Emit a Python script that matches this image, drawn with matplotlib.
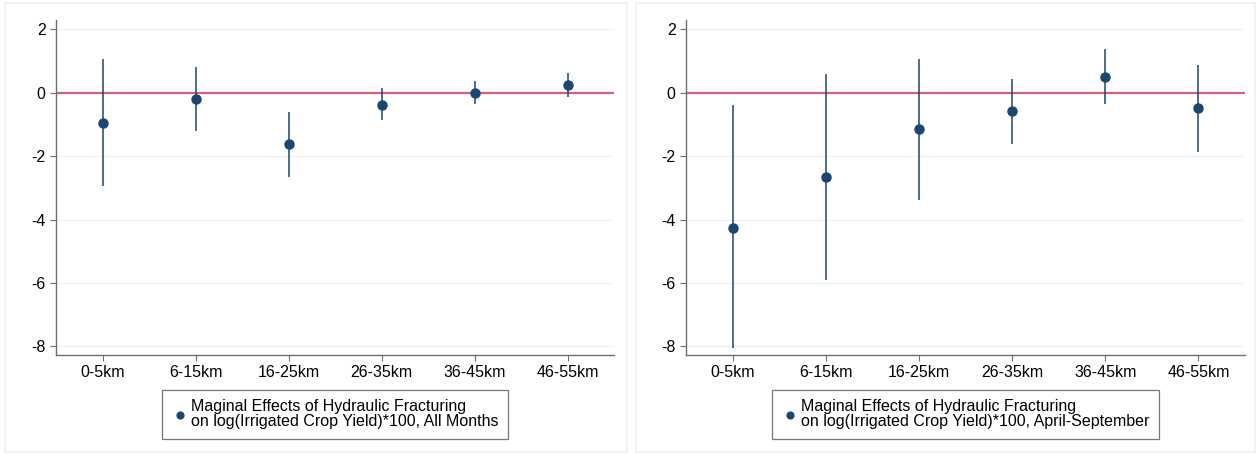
import matplotlib
matplotlib.use("Agg")
import matplotlib.pyplot as plt
from matplotlib.patches import Rectangle

plt.rcParams['font.family'] = ['Liberation Sans', 'DejaVu Sans']

categories = ["0-5km", "6-15km", "16-25km", "26-35km", "36-45km", "46-55km"]
yticks = [2, 0, -2, -4, -6, -8]

# Left panel: All Months
all_est = [-0.95, -0.21, -1.63, -0.38, 0.00, 0.24]
all_hi = [1.05, 0.80, -0.62, 0.14, 0.37, 0.63]
all_lo = [-2.93, -1.21, -2.65, -0.86, -0.37, -0.15]
all_label = "Maginal Effects of Hydraulic Fracturing\non log(Irrigated Crop Yield)*100, All Months"

# Right panel: April-September
as_est = [-4.26, -2.66, -1.15, -0.59, 0.51, -0.48]
as_hi = [-0.40, 0.59, 1.06, 0.43, 1.38, 0.87]
as_lo = [-8.06, -5.90, -3.37, -1.63, -0.37, -1.86]
as_label = "Maginal Effects of Hydraulic Fracturing\non log(Irrigated Crop Yield)*100, April-September"

navy = "#1a476f"
redline = "#d2627c"
gridc = "#eef2f3"
axc = "#6e6e6e"

fig = plt.figure(figsize=(12.59, 4.55), dpi=100)
fig.patch.set_facecolor("white")

# faint panel frames
for x0, w in [(0.004, 0.494), (0.505, 0.492)]:
    fig.patches.append(Rectangle((x0, 0.006), w, 0.988, transform=fig.transFigure,
                                 fill=False, edgecolor="#eef0f2", linewidth=1.2))

panels = [
    ([0.0445, 0.2198, 0.4432, 0.736], all_est, all_lo, all_hi, all_label),
    ([0.5449, 0.2198, 0.4440, 0.736], as_est, as_lo, as_hi, as_label),
]

xs = list(range(1, len(categories) + 1))
for rect, est, lo, hi, label in panels:
    ax = fig.add_axes(rect)
    ax.set_xlim(0.5, 6.5)
    ax.set_ylim(-8.27, 2.29)
    ax.set_yticks(yticks)
    ax.set_yticklabels([str(v) for v in yticks])
    ax.set_xticks(xs)
    ax.set_xticklabels(categories)
    for v in yticks:
        ax.axhline(v, color=gridc, linewidth=1.0, zorder=0)
    ax.axhline(0, color=redline, linewidth=1.6, zorder=1)
    ax.vlines(xs, lo, hi, color=navy, linewidth=1.1, zorder=2)
    ax.plot(xs, est, 'o', color=navy, markersize=6.5, zorder=3, label=label)
    for s in ['top', 'right']:
        ax.spines[s].set_visible(False)
    for s in ['left', 'bottom']:
        ax.spines[s].set_color(axc)
        ax.spines[s].set_linewidth(1.0)
    ax.tick_params(axis='both', colors=axc, labelcolor='black', labelsize=11.5,
                   length=4, width=0.8)
    leg = ax.legend(loc='upper center', bbox_to_anchor=(0.5, -0.104), frameon=True,
                    fancybox=False, fontsize=11.5, handletextpad=0.2, borderpad=0.6,
                    borderaxespad=0.0, handlelength=1.0, markerscale=0.75)
    for t in leg.get_texts():
        t.set_linespacing(1.0)
    leg.get_frame().set_edgecolor("#555555")
    leg.get_frame().set_linewidth(0.9)

fig.savefig("out.png", dpi=100, facecolor="white")
